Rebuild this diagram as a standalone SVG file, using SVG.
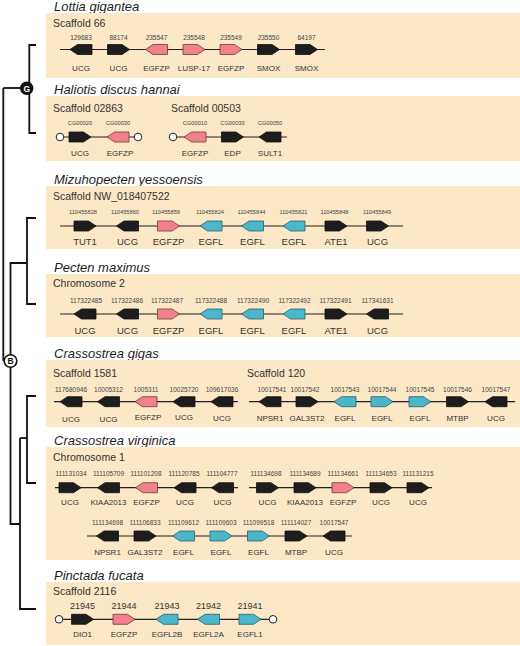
<svg xmlns="http://www.w3.org/2000/svg" width="520" height="646" viewBox="0 0 520 646">
<style>
text{font-family:"Liberation Sans",Arial,sans-serif}
.panel{fill:#FCE7C6}
.title{font-size:13px;font-style:italic;fill:#1e1e1e}
.sub{font-size:10.5px;fill:#333}
.num{font-size:6.5px;fill:#444;text-anchor:middle}
.numS{font-size:5.7px;fill:#444;text-anchor:middle}
.numL{font-size:9px;fill:#333;text-anchor:middle}
.lab{font-size:8px;fill:#333;text-anchor:middle}
.labL{font-size:9.5px;fill:#333;text-anchor:middle}
.trk{stroke:#222;stroke-width:1.2;fill:none}
.k{fill:#1d1d1d;stroke:#111;stroke-width:0.8}
.p{fill:#F1818B;stroke:#6e3a3e;stroke-width:0.8}
.b{fill:#4CB6CA;stroke:#23606b;stroke-width:0.8}
.end{fill:#fff;stroke:#222;stroke-width:1}
.tree{fill:none;stroke:#111;stroke-width:1.8}
</style>
<defs>
<path id="gR" d="M0,-5H14.5L22,0L14.5,5H0Z"/>
<path id="gL" d="M22,-5H7.5L0,0L7.5,5H22Z"/>
</defs>

<g id="connectors">
<path class="tree" d="M36,45H29.3V133H36"/>
<path class="tree" d="M3.3,88H26.7"/>
<path class="tree" d="M3.3,88V361"/>
<path class="tree" d="M10.5,355V263H27"/>
<path class="tree" d="M36,218H27V304H36"/>
<path class="tree" d="M10.5,367V524H20"/>
<path class="tree" d="M20,438V609H36"/>
<path class="tree" d="M20,438H27"/>
<path class="tree" d="M36,396H27V483H36"/>
</g>

<g id="node-G">
<circle cx="26.7" cy="88.3" r="6.7" fill="#111"/>
<text x="26.7" y="91.5" font-size="8.5" font-weight="bold" fill="#fff" text-anchor="middle">G</text>
</g>
<g id="node-B">
<circle cx="10.5" cy="361" r="6.3" fill="#fff" stroke="#111" stroke-width="1.6"/>
<text x="10.5" y="364.2" font-size="8.5" font-weight="bold" fill="#111" text-anchor="middle">B</text>
</g>

<g id="lottia">
<text class="title" x="54" y="10.5">Lottia gigantea</text>
<rect class="panel" x="46" y="13" width="474" height="65"/>
<text class="sub" x="53" y="27">Scaffold 66</text>
<line class="trk" x1="60" y1="49.5" x2="325" y2="49.5"/>
<use href="#gL" x="70" y="49.5" class="k"/>
<use href="#gR" x="107.5" y="49.5" class="k"/>
<use href="#gL" x="145.5" y="49.5" class="p"/>
<use href="#gR" x="183" y="49.5" class="p"/>
<use href="#gR" x="220" y="49.5" class="p"/>
<use href="#gR" x="257.5" y="49.5" class="k"/>
<use href="#gR" x="295.5" y="49.5" class="k"/>
<text class="num" x="81" y="40">129683</text>
<text class="num" x="118.5" y="40">88174</text>
<text class="num" x="156.5" y="40">235547</text>
<text class="num" x="194" y="40">235548</text>
<text class="num" x="231" y="40">235549</text>
<text class="num" x="268.5" y="40">235550</text>
<text class="num" x="306.5" y="40">64197</text>
<text class="lab" x="81" y="71">UCG</text>
<text class="lab" x="118.5" y="71">UCG</text>
<text class="lab" x="156.5" y="71">EGFZP</text>
<text class="lab" x="194" y="71">LUSP-17</text>
<text class="lab" x="231" y="71">EGFZP</text>
<text class="lab" x="268.5" y="71">SMOX</text>
<text class="lab" x="306.5" y="71">SMOX</text>
</g>

<g id="haliotis">
<text class="title" x="54" y="93.5">Haliotis discus hannai</text>
<rect class="panel" x="46" y="96" width="474" height="65"/>
<text class="sub" x="53" y="111.5">Scaffold 02863</text>
<text class="sub" x="171" y="111.5">Scaffold 00503</text>
<line class="trk" x1="60" y1="137" x2="138" y2="137"/>
<line class="trk" x1="173" y1="137" x2="287" y2="137"/>
<circle class="end" cx="60" cy="137" r="3.8"/>
<circle class="end" cx="138" cy="137" r="3.8"/>
<circle class="end" cx="173" cy="137" r="3.8"/>
<use href="#gR" x="69" y="137" class="k"/>
<use href="#gL" x="107" y="137" class="p"/>
<use href="#gL" x="184" y="137" class="p"/>
<use href="#gR" x="221.5" y="137" class="k"/>
<use href="#gL" x="259" y="137" class="k"/>
<text class="numS" x="80" y="125">CG00020</text>
<text class="numS" x="118" y="125">CG00030</text>
<text class="numS" x="195" y="125">CG00010</text>
<text class="numS" x="232.5" y="125">CG00030</text>
<text class="numS" x="270" y="125">CG00050</text>
<text class="lab" x="80" y="156">UCG</text>
<text class="lab" x="120" y="156">EGFZP</text>
<text class="lab" x="195" y="156">EGFZP</text>
<text class="lab" x="232.5" y="156">EDP</text>
<text class="lab" x="270" y="156">SULT1</text>
</g>

<g id="mizuhopecten">
<text class="title" x="54" y="183.5">Mizuhopecten yessoensis</text>
<rect class="panel" x="46" y="186" width="474" height="63"/>
<text class="sub" x="53" y="199.5">Scaffold NW_018407522</text>
<line class="trk" x1="60" y1="226" x2="403" y2="226"/>
<use href="#gR" x="74" y="226" class="k"/>
<use href="#gL" x="116.5" y="226" class="k"/>
<use href="#gR" x="157.5" y="226" class="p"/>
<use href="#gL" x="200" y="226" class="b"/>
<use href="#gL" x="241.5" y="226" class="b"/>
<use href="#gL" x="283" y="226" class="b"/>
<use href="#gR" x="325" y="226" class="k"/>
<use href="#gR" x="366.5" y="226" class="k"/>
<text class="numS" x="83" y="214">110455828</text>
<text class="numS" x="125" y="214">110455860</text>
<text class="numS" x="166" y="214">110455859</text>
<text class="numS" x="210" y="214">110455824</text>
<text class="numS" x="251.5" y="214">110455844</text>
<text class="numS" x="293.5" y="214">110455821</text>
<text class="numS" x="334.5" y="214">110455848</text>
<text class="numS" x="377" y="214">110455849</text>
<text class="labL" x="85" y="244.5">TUT1</text>
<text class="labL" x="127.5" y="244.5">UCG</text>
<text class="labL" x="168.5" y="244.5">EGFZP</text>
<text class="labL" x="211" y="244.5">EGFL</text>
<text class="labL" x="252.5" y="244.5">EGFL</text>
<text class="labL" x="294" y="244.5">EGFL</text>
<text class="labL" x="336" y="244.5">ATE1</text>
<text class="labL" x="377.5" y="244.5">UCG</text>
</g>

<g id="pecten">
<text class="title" x="54" y="271.5">Pecten maximus</text>
<rect class="panel" x="46" y="274" width="474" height="63"/>
<text class="sub" x="53" y="286.5">Chromosome 2</text>
<line class="trk" x1="60" y1="314" x2="403" y2="314"/>
<use href="#gL" x="74" y="314" class="k"/>
<use href="#gL" x="116.5" y="314" class="k"/>
<use href="#gR" x="157.5" y="314" class="p"/>
<use href="#gL" x="200" y="314" class="b"/>
<use href="#gL" x="241.5" y="314" class="b"/>
<use href="#gL" x="283" y="314" class="b"/>
<use href="#gR" x="325" y="314" class="k"/>
<use href="#gL" x="366.5" y="314" class="k"/>
<text class="num" x="86" y="303">117322485</text>
<text class="num" x="127" y="303">117322486</text>
<text class="num" x="167" y="303">117322487</text>
<text class="num" x="211" y="303">117322488</text>
<text class="num" x="253" y="303">117322490</text>
<text class="num" x="294.5" y="303">117322492</text>
<text class="num" x="335.5" y="303">117322491</text>
<text class="num" x="377.5" y="303">117341631</text>
<text class="labL" x="85" y="333.5">UCG</text>
<text class="labL" x="127.5" y="333.5">UCG</text>
<text class="labL" x="168.5" y="333.5">EGFZP</text>
<text class="labL" x="211" y="333.5">EGFL</text>
<text class="labL" x="252.5" y="333.5">EGFL</text>
<text class="labL" x="294" y="333.5">EGFL</text>
<text class="labL" x="336" y="333.5">ATE1</text>
<text class="labL" x="377.5" y="333.5">UCG</text>
</g>

<g id="crassostrea-gigas">
<text class="title" x="54" y="357.5">Crassostrea gigas</text>
<rect class="panel" x="46" y="360" width="474" height="67"/>
<text class="sub" x="53" y="376.5">Scaffold 1581</text>
<text class="sub" x="247" y="376.5">Scaffold 120</text>
<line class="trk" x1="54" y1="401.7" x2="238" y2="401.7"/>
<line class="trk" x1="249" y1="401.7" x2="515" y2="401.7"/>
<use href="#gL" x="60" y="401.7" class="k"/>
<use href="#gL" x="97.5" y="401.7" class="k"/>
<use href="#gL" x="135" y="401.7" class="p"/>
<use href="#gL" x="173" y="401.7" class="k"/>
<use href="#gL" x="211" y="401.7" class="k"/>
<use href="#gL" x="259" y="401.7" class="k"/>
<use href="#gR" x="296" y="401.7" class="k"/>
<use href="#gL" x="334" y="401.7" class="b"/>
<use href="#gR" x="371" y="401.7" class="b"/>
<use href="#gR" x="409" y="401.7" class="b"/>
<use href="#gR" x="446.5" y="401.7" class="k"/>
<use href="#gL" x="485" y="401.7" class="k"/>
<text class="num" x="71" y="392.3">117680946</text>
<text class="num" x="108.5" y="392.3">10005312</text>
<text class="num" x="146" y="392.3">1005311</text>
<text class="num" x="184" y="392.3">10025720</text>
<text class="num" x="222" y="392.3">109617036</text>
<text class="num" x="272" y="392.3">10017541</text>
<text class="num" x="305" y="392.3">10017542</text>
<text class="num" x="345" y="392.3">10017543</text>
<text class="num" x="382" y="392.3">10017544</text>
<text class="num" x="420" y="392.3">10017545</text>
<text class="num" x="457.5" y="392.3">10017546</text>
<text class="num" x="496" y="392.3">10017547</text>
<text class="lab" x="71" y="422">UCG</text>
<text class="lab" x="108.5" y="422">UCG</text>
<text class="lab" x="148" y="420">EGFZP</text>
<text class="lab" x="184" y="420">UCG</text>
<text class="lab" x="222" y="421">UCG</text>
<text class="lab" x="270" y="421">NPSR1</text>
<text class="lab" x="307" y="421">GAL3ST2</text>
<text class="lab" x="345" y="421">EGFL</text>
<text class="lab" x="382" y="421">EGFL</text>
<text class="lab" x="420" y="421">EGFL</text>
<text class="lab" x="457.5" y="421">MTBP</text>
<text class="lab" x="496" y="421">UCG</text>
</g>

<g id="crassostrea-virginica">
<text class="title" x="54" y="444.5">Crassostrea virginica</text>
<rect class="panel" x="46" y="447" width="474" height="113"/>
<text class="sub" x="53" y="460.5">Chromosome 1</text>
<line class="trk" x1="55" y1="487.7" x2="238" y2="487.7"/>
<line class="trk" x1="249" y1="487.7" x2="432" y2="487.7"/>
<line class="trk" x1="87" y1="536" x2="352" y2="536"/>
<use href="#gR" x="59" y="487.7" class="k"/>
<use href="#gL" x="97.5" y="487.7" class="k"/>
<use href="#gL" x="135.5" y="487.7" class="p"/>
<use href="#gL" x="174" y="487.7" class="k"/>
<use href="#gL" x="211.5" y="487.7" class="k"/>
<use href="#gR" x="256.5" y="487.7" class="k"/>
<use href="#gR" x="294" y="487.7" class="k"/>
<use href="#gR" x="332" y="487.7" class="p"/>
<use href="#gR" x="370" y="487.7" class="k"/>
<use href="#gR" x="407" y="487.7" class="k"/>
<use href="#gL" x="96.5" y="536" class="k"/>
<use href="#gR" x="134" y="536" class="k"/>
<use href="#gL" x="172.5" y="536" class="b"/>
<use href="#gR" x="210" y="536" class="b"/>
<use href="#gR" x="247.5" y="536" class="b"/>
<use href="#gR" x="285" y="536" class="k"/>
<use href="#gL" x="323" y="536" class="k"/>
<text class="num" x="71" y="476.3">111131034</text>
<text class="num" x="108.5" y="476.3">111105709</text>
<text class="num" x="146" y="476.3">111101208</text>
<text class="num" x="184" y="476.3">111120785</text>
<text class="num" x="222" y="476.3">111104777</text>
<text class="num" x="266" y="476.3">111134698</text>
<text class="num" x="305" y="476.3">111134689</text>
<text class="num" x="343" y="476.3">111134661</text>
<text class="num" x="381" y="476.3">111134653</text>
<text class="num" x="418" y="476.3">111131215</text>
<text class="lab" x="70" y="505.3">UCG</text>
<text class="lab" x="108.5" y="505.3">KIAA2013</text>
<text class="lab" x="146.5" y="505.3">EGFZP</text>
<text class="lab" x="185" y="505.3">UCG</text>
<text class="lab" x="222.5" y="505.3">UCG</text>
<text class="lab" x="267.5" y="505.3">UCG</text>
<text class="lab" x="305" y="505.3">KIAA2013</text>
<text class="lab" x="343" y="505.3">EGFZP</text>
<text class="lab" x="381" y="505.3">UCG</text>
<text class="lab" x="418" y="505.3">UCG</text>
<text class="num" x="107.5" y="525">111134698</text>
<text class="num" x="145" y="525">111106833</text>
<text class="num" x="183.5" y="525">111109612</text>
<text class="num" x="221" y="525">111109603</text>
<text class="num" x="258.5" y="525">111099518</text>
<text class="num" x="296" y="525">111114027</text>
<text class="num" x="334" y="525">10017547</text>
<text class="lab" x="107.5" y="555.3">NPSR1</text>
<text class="lab" x="145" y="555.3">GAL3ST2</text>
<text class="lab" x="183.5" y="555.3">EGFL</text>
<text class="lab" x="221" y="555.3">EGFL</text>
<text class="lab" x="258.5" y="555.3">EGFL</text>
<text class="lab" x="296" y="555.3">MTBP</text>
<text class="lab" x="334" y="555.3">UCG</text>
</g>

<g id="pinctada">
<text class="title" x="54" y="579.5">Pinctada fucata</text>
<rect class="panel" x="46" y="582" width="474" height="63"/>
<text class="sub" x="53" y="595">Scaffold 2116</text>
<line class="trk" x1="59" y1="619.3" x2="273" y2="619.3"/>
<circle class="end" cx="59" cy="619.3" r="3.8"/>
<circle class="end" cx="273" cy="619.3" r="3.8"/>
<use href="#gR" x="71.5" y="619.3" class="k"/>
<use href="#gR" x="113" y="619.3" class="p"/>
<use href="#gL" x="156" y="619.3" class="b"/>
<use href="#gL" x="197.5" y="619.3" class="b"/>
<use href="#gR" x="239" y="619.3" class="b"/>
<text class="numL" x="82.5" y="608.5">21945</text>
<text class="numL" x="124" y="608.5">21944</text>
<text class="numL" x="167" y="608.5">21943</text>
<text class="numL" x="208.5" y="608.5">21942</text>
<text class="numL" x="250" y="608.5">21941</text>
<text class="lab" x="82.5" y="636.5">DIO1</text>
<text class="lab" x="124" y="636.5">EGFZP</text>
<text class="lab" x="167" y="636.5">EGFL2B</text>
<text class="lab" x="208.5" y="636.5">EGFL2A</text>
<text class="lab" x="250" y="636.5">EGFL1</text>
</g>
</svg>
